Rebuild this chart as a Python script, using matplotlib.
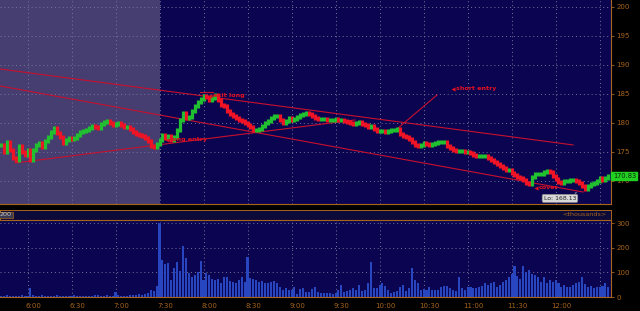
import matplotlib
matplotlib.use('Agg')
import matplotlib.pyplot as plt
import matplotlib.transforms as mtransforms
import numpy as np

# bars every 2 minutes, minutes counted from 6:00, first bar at 5:42
start_min = -18
step_min = 2
closes = [
    176.21, 175.00, 176.72, 175.34, 173.97, 173.62, 176.03, 175.00, 174.48, 175.34,
    173.62, 175.34, 176.21, 176.55, 175.86, 176.90, 177.59, 178.45, 179.14, 178.28,
    177.59, 176.55, 177.07, 177.41, 177.24, 177.41, 177.93, 178.45, 178.62, 178.79,
    179.14, 179.48, 179.31, 179.14, 179.83, 180.17, 180.34, 180.00, 179.66, 179.83,
    180.00, 179.66, 179.31, 179.31, 178.97, 178.45, 178.10, 177.93, 177.76, 177.41,
    176.90, 176.03, 175.86, 176.38, 177.07, 177.93, 177.41, 177.76, 177.07, 177.59,
    178.79, 180.52, 181.72, 180.86, 181.03, 182.07, 182.93, 183.62, 184.14, 184.66,
    184.48, 183.97, 184.31, 184.83, 183.97, 183.10, 182.93, 182.07, 181.55, 181.21,
    180.86, 180.52, 180.34, 180.00, 179.66, 179.31, 178.79, 178.79, 178.97, 179.48,
    180.00, 180.34, 180.86, 181.21, 181.21, 180.52, 180.00, 180.34, 180.86, 180.52,
    180.69, 181.03, 181.38, 181.55, 181.72, 181.55, 181.21, 180.86, 180.69, 180.69,
    180.69, 180.52, 180.52, 180.52, 180.69, 180.52, 180.52, 180.34, 180.17, 180.00,
    179.83, 180.00, 180.17, 179.83, 179.66, 179.31, 179.48, 178.97, 178.62, 178.62,
    178.62, 178.45, 178.62, 178.79, 178.79, 178.97, 178.10, 177.76, 177.59, 177.24,
    176.72, 176.21, 176.03, 176.21, 176.55, 176.38, 176.21, 176.38, 176.55, 176.72,
    176.72, 176.72, 176.03, 175.69, 175.34, 175.17, 175.17, 175.17, 175.00, 175.00,
    174.83, 174.48, 174.31, 174.31, 174.31, 174.31, 173.97, 173.62, 173.28, 172.93,
    172.59, 172.24, 171.90, 171.90, 171.38, 171.03, 170.69, 170.52, 170.17, 169.66,
    169.48, 170.69, 171.21, 171.21, 171.21, 171.55, 171.72, 171.55, 170.86, 170.34,
    169.83, 169.66, 170.00, 170.00, 170.17, 170.17, 170.00, 169.66, 169.14, 168.62,
    169.14, 169.48, 169.66, 170.00, 170.52, 170.17, 170.52, 170.83,
]
volumes = [  # thousands
    5, 3, 8, 4, 6, 3, 5, 7, 4, 6,
    35, 10, 6, 4, 8, 5, 3, 6, 4, 7,
    5, 4, 6, 3, 5, 8, 4, 6, 3, 5,
    4, 6, 10, 8, 5, 4, 7, 6, 5, 20,
    8, 5, 4, 6, 8, 10, 7, 12, 9, 14,
    18, 30, 25, 45, 300, 150, 135, 140, 70, 118,
    143, 106, 208, 160, 98, 80, 90, 100, 147, 70,
    98, 90, 73, 70, 73, 57, 82, 82, 65, 60,
    57, 70, 82, 61, 163, 78, 73, 70, 61, 65,
    57, 57, 61, 65, 57, 40, 30, 37, 28, 30,
    40, 12, 33, 37, 20, 20, 33, 40, 20, 16,
    18, 15, 18, 14, 16, 30, 49, 20, 25, 28,
    35, 30, 49, 25, 28, 57, 143, 37, 37, 49,
    57, 45, 28, 16, 20, 25, 40, 49, 25, 35,
    118, 70, 57, 28, 33, 28, 40, 30, 28, 30,
    40, 45, 45, 37, 28, 25, 82, 37, 28, 40,
    40, 37, 35, 40, 45, 57, 49, 57, 61, 40,
    50, 61, 70, 82, 95, 127, 85, 75, 127, 100,
    110, 95, 90, 80, 60, 82, 57, 70, 61, 70,
    57, 40, 49, 40, 40, 49, 57, 61, 82, 52,
    40, 45, 37, 40, 40, 45, 57, 40,
]
session_open = 90  # 7:30
time_ticks = [0, 30, 60, 90, 120, 150, 180, 210, 240, 270, 300, 330, 360]
time_labels = ['6:00', '6:30', '7:00', '7:30', '8:00', '8:30', '9:00',
               '9:30', '10:00', '10:30', '11:00', '11:30', '12:00']
grid_times = time_ticks + [390]
price_ticks = [170, 175, 180, 185, 190, 195, 200]
vol_ticks = [0, 100, 200, 300]
last_price = 170.83
low_price = 168.13
low_time = 376

# drawn trend lines: (time, price) endpoints
trend_lines = [
    [(-18.75, 189.31), (371.9, 176.21)],
    [(-18.75, 186.38), (378.7, 168.10)],
    [(-8.5, 173.10), (223.3, 180.52)],
    [(251.9, 178.97), (279.2, 184.83)],
    [(117.6, 185.34), (126.4, 185.34)],
]
notes = [
    ('long entry', 95.1, 177.07),
    ('exit long', 124.4, 184.66),
    ('short entry', 290.0, 185.86),
    ('cover', 346.6, 168.80),
]

bg = '#0b0450'
pre_bg = '#463e70'
axis_col = '#a8641c'
grid_col = '#76769a'
up_col = '#20c030'
dn_col = '#ee1425'

times = start_min + step_min * np.arange(len(closes))
closes = np.array(closes)
opens = np.concatenate([[closes[0]], closes[:-1]])

fig = plt.figure(figsize=(6.4, 3.11), dpi=100, facecolor='black')
W = 611 / 640
ax = fig.add_axes([0, 107 / 311, W, 204 / 311])
hdr = fig.add_axes([0, 91 / 311, W, 10 / 311])
axv = fig.add_axes([0, 14 / 311, W, 77 / 311])

xlim = (-18.75, 397.8)

# price panel
ax.set_facecolor(bg)
ax.axvspan(xlim[0], session_open, color=pre_bg, lw=0, zorder=0)
ax.set_xlim(*xlim)
ax.set_ylim(166.03, 201.2)
for t in grid_times:
    ax.axvline(t, color=grid_col, ls=(0, (1, 3)), lw=0.7, zorder=1)
for p in price_ticks:
    ax.axhline(p, color=grid_col, ls=(0, (1, 3)), lw=0.7, zorder=1)

for x0, x1 in trend_lines:
    ax.plot([x0[0], x1[0]], [x0[1], x1[1]], color='#c8102e', lw=0.8, zorder=2)

pad = 0.32
lo = np.minimum(opens, closes) - pad
hi = np.maximum(opens, closes) + pad
cols = [up_col if c >= o else dn_col for o, c in zip(opens, closes)]
ax.vlines(times, lo, hi, colors=cols, lw=2.3, zorder=3)

for txt, t, p in notes:
    ax.plot(t, p, marker='<', ms=3, color='#e01020', mec='none', zorder=4)
    ax.text(t + 2.2, p, txt, color='#e01020', fontsize=4.6, fontweight='bold',
            va='center', ha='left', zorder=4)

ax.yaxis.tick_right()
ax.set_yticks(price_ticks)
ax.set_xticks([])
ax.tick_params(axis='y', colors=axis_col, labelsize=5, length=2, width=0.6, pad=2)
for s in ax.spines.values():
    s.set_visible(False)
ax.spines['right'].set_visible(True)
ax.spines['right'].set_color(axis_col)
ax.spines['bottom'].set_visible(True)
ax.spines['bottom'].set_color(axis_col)

ax.annotate('Lo: 168.13', xy=(low_time, low_price), xytext=(363, 167.0),
            fontsize=4.4, color='#222222', ha='center', va='center',
            bbox=dict(boxstyle='round,pad=0.25', fc='#d8d8d8', ec='#888888', lw=0.5),
            arrowprops=dict(arrowstyle='-', color='#cccccc', lw=0.6),
            zorder=5, annotation_clip=False)
ax.text(1.003, last_price, '170.83', transform=ax.get_yaxis_transform(),
        fontsize=4.8, color='#0a2a0a', ha='left', va='center',
        bbox=dict(boxstyle='square,pad=0.2', fc='#22d022', ec='#22d022'),
        zorder=6, clip_on=False)

# header strip
hdr.set_facecolor('#0c0a38')
hdr.set_xticks([])
hdr.set_yticks([])
for s in hdr.spines.values():
    s.set_color(axis_col)
    s.set_linewidth(0.7)
hdr.text(0.0, 0.5, '200', transform=hdr.transAxes, fontsize=4.6, color='#c8c8c8',
         ha='left', va='center',
         bbox=dict(boxstyle='square,pad=0.15', fc='#3a3a50', ec=axis_col, lw=0.5))
hdr.text(0.993, 0.5, '<thousands>', transform=hdr.transAxes, fontsize=4.6,
         color=axis_col, ha='right', va='center')

# volume panel
axv.set_facecolor(bg)
axv.set_xlim(*xlim)
axv.set_ylim(0, 314)
for t in grid_times:
    axv.axvline(t, color=grid_col, ls=(0, (1, 3)), lw=0.7, zorder=1)
for v in vol_ticks[1:]:
    axv.axhline(v, color=grid_col, ls=(0, (1, 3)), lw=0.7, zorder=1)
axv.bar(times, volumes, width=1.4, color='#2846c0', lw=0, zorder=2)
axv.yaxis.tick_right()
axv.set_yticks(vol_ticks)
axv.set_xticks(time_ticks)
axv.set_xticklabels(time_labels)
axv.tick_params(axis='y', colors=axis_col, labelsize=5, length=2, width=0.6, pad=2)
axv.tick_params(axis='x', colors=axis_col, labelsize=5, length=0, pad=4)
shift = mtransforms.ScaledTranslation(6 / 100, 0, fig.dpi_scale_trans)
for lab in axv.get_xticklabels():
    lab.set_transform(lab.get_transform() + shift)
for s in axv.spines.values():
    s.set_visible(False)
for side in ('right', 'top', 'bottom'):
    axv.spines[side].set_visible(True)
    axv.spines[side].set_color(axis_col)

fig.savefig('out.png', dpi=100, facecolor='black')
